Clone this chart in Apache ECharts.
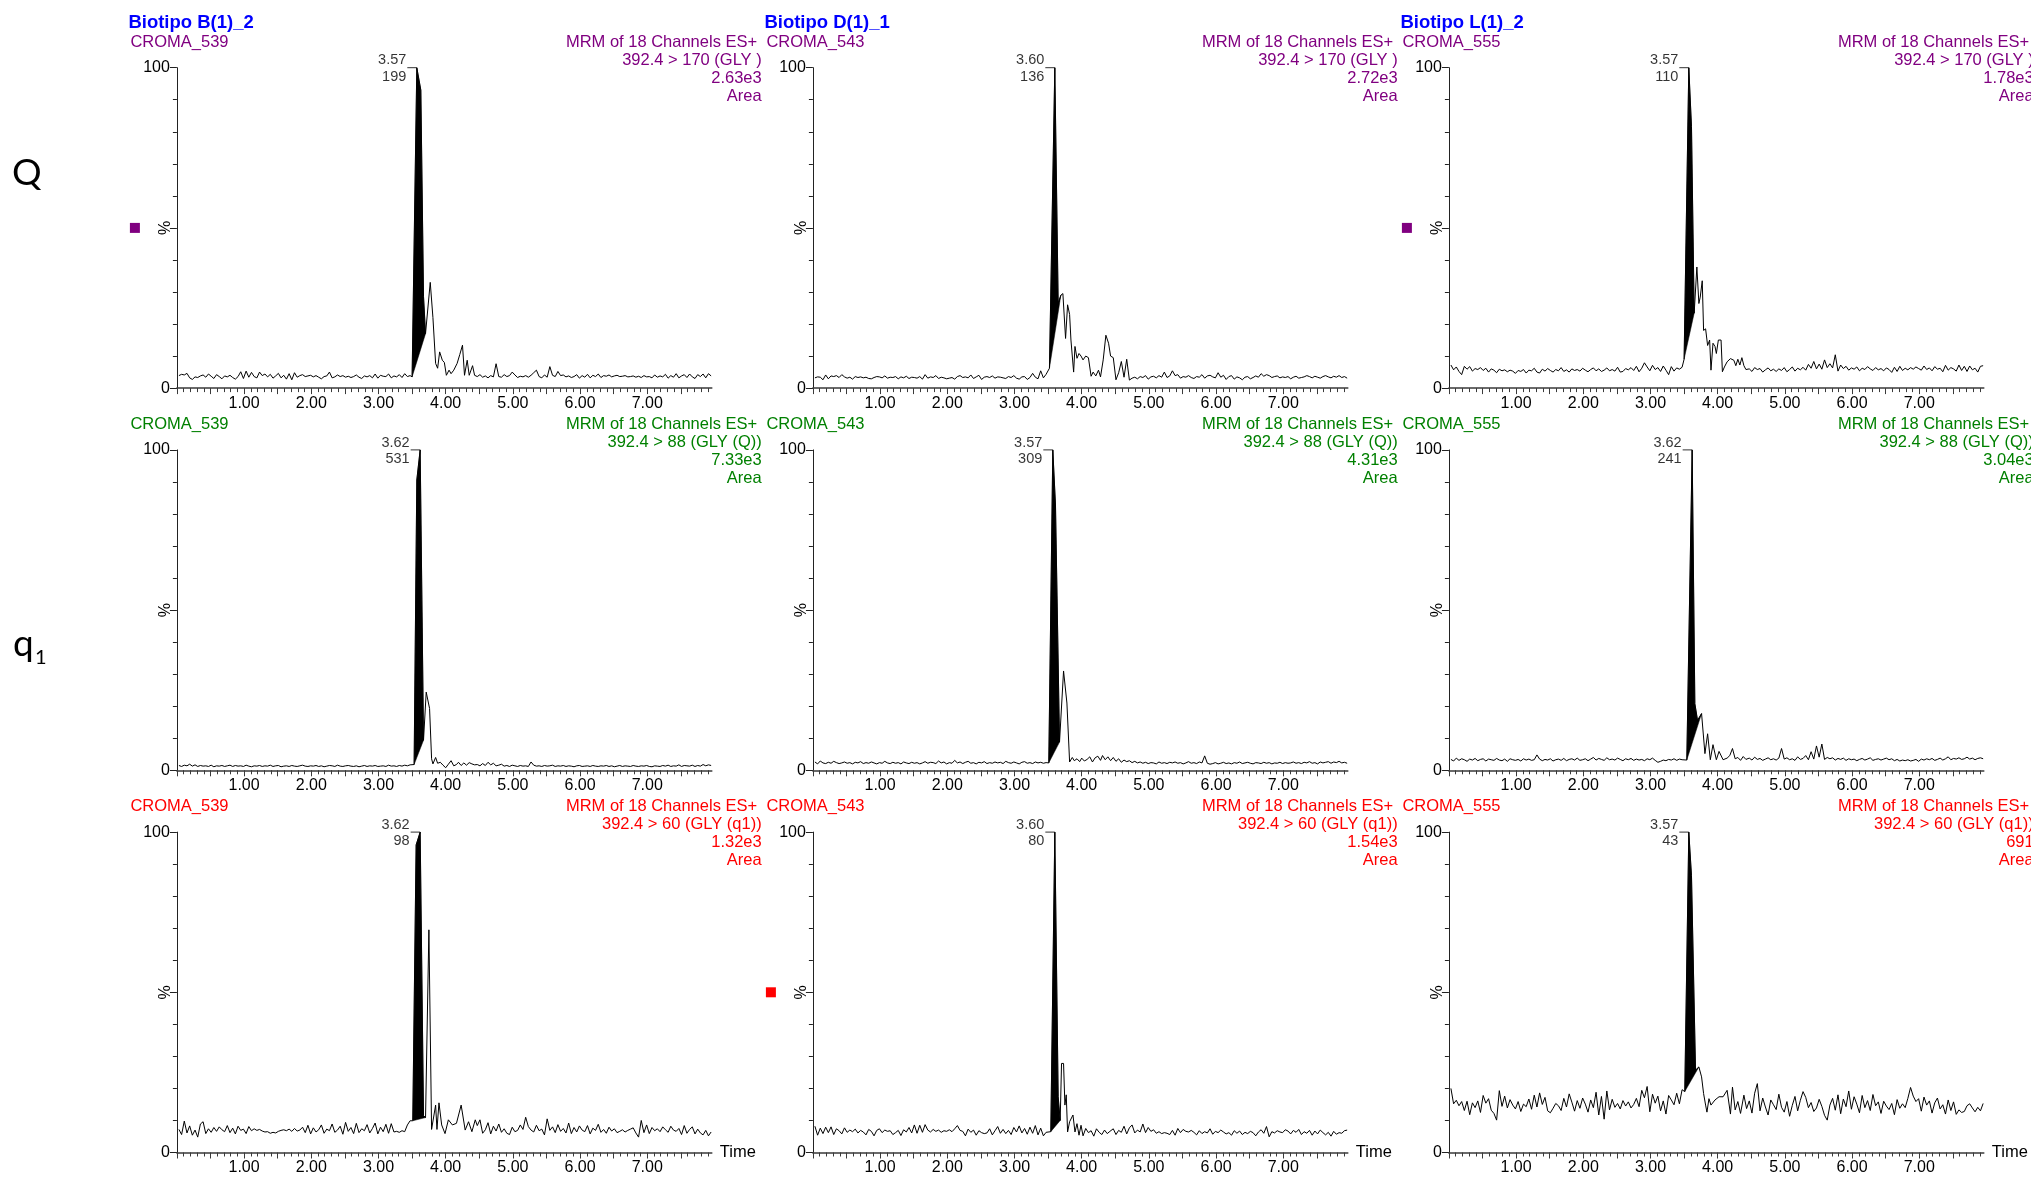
<!DOCTYPE html>
<html>
<head>
<meta charset="utf-8">
<script src="https://cdn.jsdelivr.net/npm/echarts@6/dist/echarts.min.js"></script>
<style>
  html, body { margin: 0; padding: 0; background: #fff; }
  #chart { width: 2031px; height: 1178px; }
</style>
</head>
<body>
<div id="chart"></div>
<script>
// ---- Acquisition: one scan every SCAN_DT min, starting at SCAN_T0 ----
const SCAN_T0 = 0.03, SCAN_DT = 0.04, SCAN_COUNT = 199;

// ---- Labels ----
const sampleNames = ['Biotipo B(1)_2', 'Biotipo D(1)_1', 'Biotipo L(1)_2'];
const runIds = ['CROMA_539', 'CROMA_543', 'CROMA_555'];
const transitions = ['392.4 > 170 (GLY )', '392.4 > 88 (GLY (Q))', '392.4 > 60 (GLY (q1))'];
const scanMode = 'MRM of 18 Channels ES+ ';
const timeLabels = [1, 2, 3, 4, 5, 6, 7];
const pctLabels = [0, 100];

// ---- Integrated peaks (rows: 170, 88, 60 transitions; columns: B, D, L) ----
const peakRT = [[3.57, 3.60, 3.57], [3.62, 3.57, 3.62], [3.62, 3.60, 3.57]];
const peakHeight = [[199, 136, 110], [531, 309, 241], [98, 80, 43]];
const peakArea = [['2.63e3', '2.72e3', '1.78e3'], ['7.33e3', '4.31e3', '3.04e3'], ['1.32e3', '1.54e3', '691']];
const integEnd = [[3.70, 3.69, 3.65], [3.67, 3.67, 3.76], [3.70, 3.68, 3.72]];

// ---- Traces (% of base peak). Pre: scans before the peak; Post: last scans of the run ----
// B(1)_2, 392.4 > 170
const b170Pre = [
  3.9, 4.3, 4.1, 4.6, 3.2, 2.7, 3.5, 3.3, 3.8, 4.1,
  3.4, 4.4, 3.7, 3.0, 4.2, 3.6, 2.9, 3.8, 3.5, 4.0,
  3.3, 2.8, 3.6, 5.1, 3.0, 5.3, 3.4, 4.9, 3.6, 3.2,
  5.0, 3.9, 4.4, 3.5, 4.3, 3.1, 3.8, 4.6, 3.2, 4.0,
  2.8, 4.5, 2.6, 4.8, 3.4, 3.9, 4.2, 3.6, 3.8, 4.0,
  3.5, 3.9, 3.4, 2.9, 3.6, 3.8, 5.0, 3.2, 3.5, 4.1,
  3.6, 3.9, 3.4, 3.7, 3.3, 3.6, 4.1, 3.4, 3.0, 3.8,
  3.5, 3.9, 3.2, 4.4, 3.1, 4.0, 3.7, 3.6, 4.4, 3.2,
  3.8, 3.5, 4.2, 3.3, 4.5, 3.6, 3.9];
const b170PeakT = [3.50, 3.57, 3.63, 3.67, 3.70, 3.77, 3.81, 3.85, 3.88, 3.91, 3.95, 3.98, 4.01, 4.05, 4.08, 4.12, 4.17, 4.21, 4.25, 4.28, 4.32, 4.35, 4.40, 4.43];
const b170PeakV = [3.5, 100, 93, 28.5, 17, 33, 22, 7.7, 6.2, 11.3, 8.7, 8.0, 4.0, 5.6, 4.5, 5.6, 7.7, 10.5, 13.4, 4.0, 8.7, 4.0, 7.0, 4.0];
const b170Post = [
  3.6, 4.2, 3.4, 3.8, 3.2, 3.9, 3.5, 7.6, 3.6, 3.4,
  4.2, 3.6, 3.9, 5.0, 4.1, 3.3, 3.7, 3.5, 3.9, 3.4,
  4.0, 4.8, 5.6, 3.6, 3.2, 4.1, 3.4, 6.7, 4.0, 3.6,
  5.2, 3.9, 4.1, 3.5, 3.8, 3.3, 3.6, 4.2, 3.1, 3.9,
  3.4, 4.3, 3.2, 4.0, 3.6, 4.4, 3.3, 3.9, 3.7, 4.1,
  3.5, 3.8, 4.0, 3.6, 3.7, 3.9, 3.5, 3.6, 3.8, 3.4,
  3.7, 3.3, 3.9, 3.5, 3.6, 3.2, 4.1, 3.4, 3.8, 3.5,
  4.3, 3.1, 3.9, 3.4, 4.5, 3.2, 3.8, 4.2, 3.3, 4.4,
  3.5, 3.0, 4.2, 3.6, 4.4, 3.2, 4.5, 3.8];

// D(1)_1, 392.4 > 170
const d170Pre = [
  3.2, 3.5, 3.4, 2.6, 4.1, 2.9, 3.8, 3.6, 3.9, 3.3,
  4.2, 3.5, 3.1, 3.4, 2.8, 3.6, 3.3, 3.5, 3.2, 3.4,
  3.0, 2.9, 3.3, 3.6, 3.5, 3.2, 3.8, 3.1, 3.4, 3.3,
  3.6, 2.9, 3.5, 3.2, 3.7, 3.0, 3.4, 3.3, 3.1, 3.6,
  2.8, 4.2, 3.1, 3.5, 3.3, 3.9, 3.0, 3.4, 3.2, 2.9,
  3.1, 3.3, 2.8, 3.6, 3.9, 3.3, 3.5, 3.2, 4.1, 3.0,
  3.5, 4.0, 2.7, 3.4, 3.6, 3.3, 3.8, 3.1, 3.5, 3.4,
  3.2, 3.0, 3.6, 3.3, 3.9, 3.1, 2.8, 3.5, 3.6, 2.7,
  3.3, 4.6, 3.4, 2.9, 5.4, 3.2, 4.3];
const d170PeakT = [3.52, 3.60, 3.65, 3.69, 3.72, 3.76, 3.79, 3.82, 3.84, 3.88, 3.90, 3.93, 3.96, 3.99, 4.02, 4.06, 4.10, 4.14, 4.17, 4.21, 4.25, 4.28, 4.32, 4.36, 4.40, 4.43];
const d170PeakV = [6.2, 100, 26.5, 29, 29.5, 15.5, 26, 23, 15, 5, 13, 9.3, 10.8, 10, 8.8, 10, 9.5, 3.7, 5, 3.8, 5.6, 3.5, 8.8, 16.5, 14, 10];
const d170Post = [
  9.5, 2.6, 4.8, 8.3, 3.4, 9.0, 2.5, 3.1, 3.4, 2.9,
  3.6, 3.3, 3.9, 2.8, 3.5, 3.7, 3.2, 3.9, 3.4, 5.0,
  3.3, 3.8, 5.4, 3.9, 4.2, 3.1, 3.6, 3.4, 3.9, 3.3,
  3.0, 3.6, 3.4, 4.2, 3.1, 3.8, 4.0, 3.5, 3.2, 4.8,
  3.4, 4.0, 2.7, 3.6, 3.9, 2.8, 3.5, 3.2, 2.6, 3.4,
  3.6, 2.9, 3.3, 3.8, 3.4, 4.5, 3.7, 4.2, 3.9, 3.3,
  3.6, 3.8, 3.2, 3.5, 3.3, 3.6, 2.9, 3.4, 3.7, 3.1,
  3.3, 3.5, 3.9, 3.6, 3.2, 3.7, 3.4, 3.1, 3.6, 3.9,
  3.5, 3.2, 3.7, 3.4, 3.9, 3.3, 3.6, 3.1];

// L(1)_2, 392.4 > 170
const l170Pre = [
  7.2, 5.7, 6.6, 5.2, 4.2, 6.8, 5.9, 6.7, 5.3, 6.1,
  5.8, 6.4, 5.5, 6.2, 5.0, 6.0, 5.6, 4.8, 5.9, 5.4,
  5.7, 5.1, 5.6, 5.3, 4.6, 5.5, 5.2, 5.8, 4.7, 5.6,
  5.4, 6.2, 5.0, 4.7, 5.9, 5.3, 6.1, 5.5, 5.0, 5.8,
  5.4, 6.4, 5.2, 5.7, 5.0, 6.0, 5.5, 5.8, 5.3, 6.2,
  5.6, 5.1, 5.8, 6.3, 5.4, 6.0, 5.2, 5.6, 6.3, 5.4,
  5.8, 5.3, 6.5, 5.0, 5.2, 6.1, 5.7, 6.4, 5.5, 6.8,
  5.1, 6.2, 7.9, 6.6, 5.4, 7.1, 5.8, 6.4, 5.2, 6.9,
  5.6, 4.2, 6.7, 5.3, 6.3, 5.9, 6.5];
const l170PeakT = [3.50, 3.57, 3.61, 3.65, 3.69, 3.72, 3.74, 3.77, 3.79, 3.82, 3.85, 3.88, 3.90, 3.93, 3.96, 3.98, 4.01, 4.05, 4.07, 4.10, 4.14, 4.19, 4.24, 4.27, 4.30, 4.33, 4.36, 4.39, 4.42];
const l170PeakV = [9, 100, 81.6, 23.4, 37.8, 26.4, 28.4, 33.5, 18, 18.5, 13.3, 15, 5.6, 14, 13, 10.8, 15, 15, 5.1, 6.6, 8.2, 9.2, 8.7, 7.0, 9.0, 7.2, 9.5, 7.0, 5.8];
const l170Post = [
  6.0, 5.2, 6.4, 5.8, 6.1, 5.0, 5.7, 6.3, 5.4, 5.9,
  5.2, 6.0, 5.5, 6.4, 5.1, 5.8, 6.6, 5.3, 6.2, 5.7,
  6.5, 5.6, 7.4, 6.2, 8.3, 6.0, 7.5, 5.9, 8.8, 6.4,
  7.6, 6.3, 10.4, 5.3, 7.2, 6.1, 6.8, 5.6, 6.3, 5.9,
  6.6, 5.4, 6.2, 5.8, 6.7, 6.0, 5.5, 6.4, 5.7, 6.1,
  5.4, 6.3, 5.8, 4.9, 6.5, 5.2, 6.8, 5.5, 6.2, 5.7,
  6.4, 5.9, 6.6, 6.1, 5.6, 6.9, 5.8, 6.3, 5.4, 6.7,
  5.9, 6.2, 5.1, 7.1, 5.6, 6.4, 6.0, 5.3, 7.2, 5.5,
  6.8, 5.2, 6.9, 5.7, 6.2, 5.0, 6.8, 7.0];

// B(1)_2, 392.4 > 88
const b88Pre = [
  1.5, 1.2, 1.6, 1.4, 1.9, 1.3, 1.7, 1.2, 1.5, 1.3,
  1.4, 1.2, 1.6, 1.1, 1.4, 1.3, 1.5, 1.2, 1.4, 1.6,
  1.2, 1.5, 1.3, 1.4, 1.2, 1.6, 1.3, 1.1, 1.4, 1.3,
  1.5, 1.2, 1.4, 1.3, 1.6, 1.2, 1.4, 1.5, 1.1, 1.3,
  1.4, 1.2, 1.5, 1.3, 1.2, 1.4, 1.6, 1.3, 1.2, 1.4,
  1.3, 1.5, 1.2, 1.4, 1.1, 1.3, 1.5, 1.4, 1.2, 1.6,
  1.3, 1.2, 1.4, 1.5, 1.3, 1.2, 1.4, 1.1, 1.3, 1.5,
  1.2, 1.4, 1.3, 1.5, 1.2, 1.3, 1.4, 1.2, 1.6, 1.3,
  1.4, 1.2, 1.5, 1.3, 1.6, 1.4, 1.7];
const b88PeakT = [3.53, 3.57, 3.62, 3.67, 3.71, 3.76, 3.79, 3.81, 3.85, 3.88, 3.92, 3.96, 4.00, 4.04, 4.08, 4.12, 4.16, 4.19, 4.23, 4.27, 4.31, 4.35, 4.39, 4.43];
const b88PeakV = [1.8, 90.6, 100, 9.4, 24.4, 19.3, 3.6, 2.0, 4.0, 2.2, 2.5, 1.6, 0.8, 1.9, 3.0, 1.4, 1.8, 2.5, 1.5, 2.3, 1.6, 2.4, 2.0, 1.7];
const b88Post = [
  1.8, 1.4, 2.1, 1.5, 2.5, 1.7, 2.2, 1.4, 1.6, 1.9,
  1.3, 1.5, 1.2, 1.6, 1.4, 1.2, 1.5, 1.3, 1.4, 1.2,
  2.6, 1.6, 1.3, 1.4, 1.2, 1.5, 1.3, 1.4, 1.6, 1.2,
  1.4, 1.3, 1.5, 1.2, 1.4, 1.3, 1.1, 1.4, 1.5, 1.2,
  1.3, 1.4, 1.2, 1.5, 1.3, 1.2, 1.4, 1.3, 1.5, 1.2,
  1.4, 1.1, 1.3, 1.5, 1.2, 1.4, 1.3, 1.2, 1.5, 1.3,
  1.2, 1.4, 1.3, 1.5, 1.2, 1.1, 1.4, 1.3, 1.2, 1.5,
  1.3, 1.6, 1.2, 1.4, 1.3, 1.7, 1.2, 1.5, 1.4, 1.3,
  1.6, 1.2, 1.5, 1.3, 1.8, 1.4, 1.7, 1.5];

// D(1)_1, 392.4 > 88
const d88Pre = [
  2.6, 2.0, 2.9, 2.3, 2.1, 2.5, 2.2, 2.8, 2.4, 2.1,
  2.3, 2.6, 2.2, 2.4, 2.0, 2.5, 2.3, 2.7, 2.1, 2.4,
  2.2, 2.6, 2.3, 2.0, 2.4, 2.2, 2.8, 2.3, 2.1, 2.5,
  2.2, 2.4, 2.0, 2.6, 2.3, 2.1, 2.5, 2.2, 2.4, 2.0,
  2.3, 2.7, 2.2, 2.5, 2.4, 2.1, 2.9, 2.3, 2.6, 2.0,
  2.4, 2.2, 3.1, 2.3, 2.6, 2.1, 2.5, 2.8, 2.2, 2.4,
  2.0, 2.5, 2.3, 2.7, 2.1, 2.4, 2.2, 2.6, 2.3, 2.5,
  2.1, 2.8, 2.4, 2.2, 2.6, 2.3, 2.0, 2.5, 2.7, 2.2,
  2.4, 2.1, 2.6, 2.3, 2.5, 2.2, 2.4];
const d88PeakT = [3.51, 3.57, 3.61, 3.67, 3.73, 3.78, 3.82, 3.86, 3.89, 3.93, 3.97, 4.00, 4.04, 4.08, 4.12, 4.16, 4.20, 4.24, 4.28, 4.31, 4.35, 4.39, 4.43];
const d88PeakV = [2.3, 100, 82.8, 8.8, 31, 21, 2.6, 4.0, 3.0, 3.6, 2.7, 3.8, 2.9, 3.4, 4.2, 2.6, 3.9, 4.4, 3.1, 4.6, 3.3, 4.2, 3.0];
const d88Post = [
  4.0, 2.8, 3.6, 2.5, 3.2, 2.7, 3.0, 2.4, 2.8, 2.3,
  2.6, 2.2, 2.5, 2.1, 2.4, 2.3, 2.0, 2.6, 2.2, 2.4,
  2.1, 2.5, 2.3, 2.6, 2.2, 2.4, 2.0, 2.3, 2.7, 2.2,
  2.4, 2.1, 2.6, 2.3, 4.5, 2.2, 1.9, 2.1, 2.4, 2.0,
  2.2, 2.5, 2.1, 2.3, 2.0, 2.4, 2.2, 2.6, 2.1, 2.3,
  2.5, 2.2, 2.0, 2.4, 2.3, 2.1, 2.5, 2.2, 2.4, 2.0,
  2.3, 2.2, 2.5, 2.1, 2.4, 2.2, 2.3, 2.6, 2.2, 2.4,
  2.1, 2.5, 2.3, 2.7, 2.2, 2.4, 2.0, 2.6, 2.3, 2.5,
  2.7, 2.2, 2.6, 2.4, 2.8, 2.3, 2.5, 2.2];

// L(1)_2, 392.4 > 88
const l88Pre = [
  3.4, 2.9, 3.8, 3.1, 3.6, 3.3, 2.8, 3.5, 3.2, 3.7,
  3.0, 3.4, 3.6, 2.9, 3.5, 3.3, 3.1, 3.7, 3.2, 3.0,
  3.5, 2.8, 3.6, 3.3, 3.1, 3.4, 2.9, 3.6, 3.2, 3.5,
  3.1, 3.3, 4.8, 3.5, 3.0, 3.4, 3.2, 3.6, 2.9, 3.3,
  3.5, 3.1, 3.7, 3.0, 3.4, 3.6, 3.2, 3.8, 3.1, 3.3,
  3.6, 3.0, 3.5, 4.0, 3.2, 3.7, 3.4, 3.1, 3.9, 3.3,
  3.5, 3.2, 3.8, 3.4, 3.0, 3.6, 3.3, 3.7, 3.1, 3.5,
  3.2, 3.4, 3.0, 3.6, 3.3, 3.8, 3.1, 2.5, 2.8, 3.2,
  3.0, 3.4, 3.2, 3.6, 3.1, 3.5, 3.3];
const l88PeakT = [3.54, 3.62, 3.66, 3.70, 3.76, 3.81, 3.85, 3.89, 3.93, 3.98, 4.02, 4.08, 4.14, 4.18, 4.22, 4.26, 4.30, 4.34, 4.38, 4.42];
const l88PeakV = [3.2, 100, 20.8, 15.6, 17.7, 5.2, 11.4, 3.3, 8.0, 3.3, 5.9, 3.3, 3.8, 4.6, 6.8, 3.6, 4.0, 3.1, 4.3, 3.4];
const l88Post = [
  3.8, 3.2, 4.1, 3.4, 3.7, 3.1, 3.5, 3.9, 3.3, 3.6,
  3.2, 3.8, 6.8, 3.5, 3.9, 3.3, 3.6, 3.1, 4.2, 3.4,
  3.7, 4.6, 3.3, 5.8, 3.5, 7.6, 4.1, 8.2, 3.4, 4.0,
  3.6, 3.9, 3.2, 3.7, 3.4, 3.8, 3.1, 3.6, 3.3, 3.5,
  3.0, 3.4, 3.7, 3.2, 3.5, 3.9, 3.1, 3.4, 3.6, 3.2,
  3.5, 3.8, 3.3, 3.6, 3.0, 3.4, 2.9, 3.2, 3.0, 3.3,
  2.9, 3.1, 3.4, 2.8, 3.5, 3.2, 3.6, 3.3, 3.7, 3.1,
  3.4, 3.8, 3.2, 3.6, 4.2, 3.3, 3.7, 3.5, 3.9, 3.4,
  3.6, 4.1, 3.5, 3.8, 3.3, 3.7, 3.9, 3.6];

// B(1)_2, 392.4 > 60
const b60Pre = [
  7.2, 5.6, 9.8, 6.1, 8.3, 5.4, 7.0, 4.8, 8.9, 9.6,
  5.9, 7.4, 6.3, 7.8, 6.6, 8.0, 7.1, 6.5, 8.4, 6.2,
  7.6, 5.8, 8.2, 6.9, 7.3, 5.9, 8.1, 6.8, 7.4, 6.9,
  7.2, 6.7, 6.4, 6.5, 6.0, 6.3, 6.1, 6.6, 6.9, 7.1,
  6.8, 7.3, 6.6, 7.5, 6.7, 7.0, 7.9, 6.2, 8.5, 5.8,
  7.7, 6.4, 7.1, 8.6, 6.0, 7.3, 6.8, 8.9, 6.3, 7.0,
  8.2, 5.7, 9.4, 6.6, 7.8, 5.9, 9.1, 6.2, 7.4, 6.8,
  8.7, 6.1, 7.5, 9.2, 5.8, 7.9, 6.5, 8.8, 6.0, 9.0,
  6.4, 6.6, 6.3, 6.8, 6.5, 8.6, 9.9];
const b60PeakT = [3.51, 3.56, 3.62, 3.67, 3.70, 3.75, 3.79, 3.85, 3.87, 3.90, 3.94, 3.99, 4.04, 4.10, 4.16, 4.23, 4.29, 4.34, 4.39, 4.44];
const b60PeakV = [9.9, 96, 100, 11.5, 10.9, 69.5, 7.2, 14.8, 7.2, 15.5, 8.6, 5.9, 10.2, 8.6, 9.1, 14.8, 7.0, 9.6, 6.5, 10.2];
const b60Post = [
  8.4, 10.2, 6.0, 7.1, 9.3, 5.8, 8.2, 6.7, 8.9, 6.3,
  7.4, 6.0, 5.6, 7.9, 6.5, 6.9, 8.6, 7.2, 11.0, 8.1,
  7.0, 6.4, 8.5, 6.8, 7.3, 5.5, 10.5, 6.9, 8.0, 6.2,
  8.7, 6.6, 7.5, 6.1, 9.2, 5.9, 7.8, 6.4, 8.3, 7.0,
  6.5, 8.4, 5.8, 7.6, 6.9, 8.8, 6.3, 7.2, 6.0, 7.9,
  6.7, 7.4, 6.2, 6.6, 7.1, 6.4, 6.9, 7.3, 7.7, 6.1,
  4.8, 10.0, 6.2, 8.6, 5.9, 7.8, 6.8, 7.4, 6.5, 8.0,
  7.1, 6.3, 8.2, 7.0, 6.6, 7.5, 5.6, 8.4, 6.0, 7.2,
  8.0, 5.8, 7.3, 6.1, 5.5, 6.9, 5.2, 6.4];

// D(1)_1, 392.4 > 60
const d60Pre = [
  8.2, 5.4, 7.6, 5.9, 7.9, 6.2, 8.0, 5.6, 7.4, 6.8,
  5.8, 7.7, 6.3, 7.0, 6.5, 7.3, 6.1, 6.9, 6.4, 5.5,
  7.2, 6.6, 5.2, 6.9, 7.4, 6.2, 7.0, 6.6, 6.8, 5.6,
  6.2, 6.9, 5.3, 7.1, 6.4, 7.8, 6.1, 8.6, 6.0, 8.5,
  6.3, 8.7, 7.0, 6.4, 7.2, 6.6, 7.0, 6.3, 6.8, 6.6,
  7.1, 6.5, 7.4, 8.4, 6.9, 6.6, 5.2, 7.3, 6.3, 7.0,
  5.4, 6.8, 6.2, 5.9, 6.1, 7.4, 5.5, 6.8, 8.1, 6.0,
  7.2, 5.9, 6.9, 5.6, 7.8, 6.4, 8.3, 6.1, 7.5, 5.7,
  7.9, 6.0, 8.4, 5.5, 7.6, 5.2, 6.3];
const d60PeakT = [3.54, 3.60, 3.65, 3.68, 3.70, 3.73, 3.75, 3.77, 3.79, 3.82, 3.84, 3.87, 3.90, 3.93, 3.96, 3.99, 4.02, 4.06, 4.10, 4.14, 4.18, 4.22, 4.26, 4.30, 4.34, 4.38, 4.42];
const d60PeakV = [6.5, 100, 17.4, 10, 27.8, 27.8, 14.8, 18, 6.4, 9.6, 9.6, 11.7, 6.4, 9.0, 5.4, 8.5, 5.2, 7.5, 6.2, 6.8, 5.1, 7.4, 6.3, 5.6, 7.0, 5.9, 6.6];
const d60Post = [
  7.4, 5.6, 6.9, 6.3, 8.2, 5.8, 7.7, 8.6, 6.1, 7.0,
  6.4, 8.9, 6.2, 7.8, 6.6, 7.1, 6.0, 6.5, 5.9, 6.2,
  6.0, 5.6, 6.9, 5.4, 7.5, 6.2, 7.2, 6.6, 6.4, 6.9,
  6.3, 5.5, 6.8, 5.9, 6.5, 6.1, 7.4, 5.7, 6.6, 6.2,
  7.0, 6.4, 5.8, 6.2, 5.4, 6.8, 6.0, 6.7, 5.6, 6.3,
  5.9, 6.6, 6.2, 5.2, 6.4, 7.1, 6.0, 8.1, 4.9, 6.5,
  6.1, 6.8, 6.4, 6.2, 7.1, 6.7, 5.8, 6.9, 6.3, 7.2,
  5.6, 6.5, 6.0, 6.9, 5.4, 6.7, 5.8, 7.0, 6.2, 5.5,
  6.3, 5.1, 6.6, 5.7, 6.2, 6.0, 6.8, 7.0];

// L(1)_2, 392.4 > 60
const l60Pre = [
  20.0, 15.2, 16.3, 14.6, 15.9, 13.1, 16.0, 11.8, 15.5, 14.0,
  16.1, 12.5, 17.8, 15.4, 16.8, 13.2, 12.2, 10.1, 19.3, 14.4,
  17.6, 13.9, 16.5, 14.8, 13.6, 15.9, 12.8, 15.1, 14.3, 16.7,
  13.5, 17.9, 14.2, 18.6, 15.0, 17.2, 13.0, 12.4, 13.8, 15.3,
  14.6, 13.1, 16.9, 14.2, 18.3, 15.7, 12.9, 16.2, 13.8, 17.0,
  15.1, 12.6, 16.4, 14.0, 18.8, 11.7, 17.5, 10.4, 19.2, 13.3,
  16.6, 14.1, 15.3, 13.6, 16.2, 14.5, 15.8, 13.9, 15.0, 16.9,
  14.3, 19.4, 17.1, 20.6, 12.7, 18.2, 15.4, 17.6, 13.0, 16.1,
  12.0, 17.8, 16.4, 14.9, 18.5, 15.2, 19.6];
const l60PeakT = [3.51, 3.57, 3.61, 3.67, 3.72, 3.76, 3.79, 3.82, 3.84, 3.87, 3.90, 3.96, 4.02, 4.08, 4.14, 4.19, 4.22, 4.26, 4.30, 4.34, 4.39, 4.43];
const l60PeakV = [19, 100, 86.4, 25.7, 26.7, 23.6, 18.4, 14.8, 12.6, 16.8, 14.8, 16.4, 17.4, 17.4, 19.4, 12, 20.4, 13.3, 15.9, 12.2, 17.9, 13.7];
const l60Post = [
  16.1, 12.3, 18.5, 21.5, 13.0, 17.0, 14.2, 11.7, 16.4, 14.9,
  13.4, 18.2, 14.1, 12.6, 15.9, 11.3, 14.7, 17.5, 13.0, 16.3,
  19.0, 17.2, 14.0, 15.6, 12.8, 13.9, 16.6, 14.4, 11.6, 10.1,
  14.8, 16.9, 13.2, 18.0, 12.1, 16.7, 14.3, 19.2, 13.5, 17.4,
  15.1, 12.4, 17.8, 14.0, 16.2, 13.1, 18.1, 14.6, 15.8, 12.2,
  16.0, 14.5, 13.4, 15.3, 11.8, 16.5, 13.8, 15.2, 14.0, 16.9,
  20.3, 17.6, 15.9, 16.8, 12.9, 17.3, 14.8, 16.1, 12.3, 15.5,
  17.0, 13.6, 14.9, 12.0, 16.4, 13.1, 15.8, 11.9, 13.3, 12.5,
  12.8, 14.6, 15.2, 13.9, 12.7, 14.1, 13.0, 15.3];

// ---- Panel table (row = transition, column = sample) ----
const channelData = [
  [[b170Pre, b170PeakT, b170PeakV, b170Post], [d170Pre, d170PeakT, d170PeakV, d170Post], [l170Pre, l170PeakT, l170PeakV, l170Post]],
  [[b88Pre, b88PeakT, b88PeakV, b88Post], [d88Pre, d88PeakT, d88PeakV, d88Post], [l88Pre, l88PeakT, l88PeakV, l88Post]],
  [[b60Pre, b60PeakT, b60PeakV, b60Post], [d60Pre, d60PeakT, d60PeakV, d60Post], [l60Pre, l60PeakT, l60PeakV, l60Post]]
];

function buildTrace(pre, peakT, peakV, post) {
  const pts = pre.map((v, i) => [SCAN_T0 + i * SCAN_DT, v]);
  peakT.forEach((t, i) => pts.push([t, peakV[i]]));
  const first = SCAN_COUNT - post.length;
  post.forEach((v, j) => pts.push([SCAN_T0 + (first + j) * SCAN_DT, v]));
  return pts;
}

// ---- Layout & style ----
const COL_X = [176.9, 812.9, 1448.9];
const ROW_Y = [67.7, 449.9, 832.1];
const ROW_STEP = 382.2;
const PLOT_W = 534.9, PLOT_H = 320.4;
const X_MAX = 7.96;
const FONT = '"Liberation Sans", Arial, sans-serif';
const ROW_COLORS = ['#800080', '#008000', '#ff0000'];
const TITLE_COLOR = '#0000ff';
const AXIS_COLOR = '#3a3a3a';

const majorTicks = [];
for (let i = 0; i <= 15; i++) majorTicks.push(i * 0.5);
const minorTicks = [];
for (let i = 1; i < 80; i++) if (i % 5) minorTicks.push(i / 10);

const grids = [], xAxes = [], yAxes = [], series = [], graphics = [];

function txt(text, x, y, fill, font, align, rotation) {
  return {
    type: 'text', x, y, rotation: rotation || 0, silent: true,
    style: { text, fill, font, align, verticalAlign: 'middle', textAlign: align, textVerticalAlign: 'middle' }
  };
}

for (let r = 0; r < 3; r++) {
  for (let c = 0; c < 3; c++) {
    const k = r * 3 + c;
    const [pre, pkT, pkV, post] = channelData[r][c];
    const trace = buildTrace(pre, pkT, pkV, post);
    const rt = peakRT[r][c];
    const tEnd = integEnd[r][c];

    grids.push({ left: COL_X[c], top: ROW_Y[r], width: PLOT_W, height: PLOT_H, containLabel: false, outerBoundsMode: 'none' });

    xAxes.push({
      type: 'value', gridIndex: k, min: 0, max: X_MAX, position: 'bottom',
      axisLine: { show: true, onZero: false, lineStyle: { color: AXIS_COLOR, width: 1.5 } },
      axisTick: { show: true, customValues: majorTicks, length: 6, lineStyle: { color: AXIS_COLOR, width: 1 } },
      axisLabel: { show: true, customValues: timeLabels, formatter: v => v.toFixed(2), color: '#000', fontSize: 16, fontFamily: FONT, margin: 7 },
      splitLine: { show: false },
      name: r === 2 ? 'Time' : '', nameLocation: 'end', nameGap: 8,
      nameTextStyle: { color: '#000', fontSize: 16.5, fontFamily: FONT, verticalAlign: 'middle', align: 'left' }
    });
    xAxes.push({
      type: 'value', gridIndex: k, min: 0, max: X_MAX, position: 'bottom',
      axisLine: { show: false },
      axisTick: { show: true, customValues: minorTicks, length: 4, lineStyle: { color: AXIS_COLOR, width: 1 } },
      axisLabel: { show: false }, splitLine: { show: false }
    });
    yAxes.push({
      type: 'value', gridIndex: k, min: 0, max: 100, position: 'left',
      axisLine: { show: true, onZero: false, lineStyle: { color: '#222', width: 1 } },
      axisTick: { show: true, customValues: [0, 50, 100], length: 7, lineStyle: { color: '#222', width: 1 } },
      axisLabel: { show: true, customValues: pctLabels, color: '#000', fontSize: 16, fontFamily: FONT, margin: 7 },
      splitLine: { show: false }
    });
    yAxes.push({
      type: 'value', gridIndex: k, min: 0, max: 100, position: 'left',
      axisLine: { show: false },
      axisTick: { show: true, customValues: [10, 20, 30, 40, 60, 70, 80, 90], length: 4, lineStyle: { color: '#222', width: 1 } },
      axisLabel: { show: false }, splitLine: { show: false }
    });

    // chromatogram trace
    series.push({
      type: 'line', xAxisIndex: 2 * k, yAxisIndex: 2 * k, data: trace,
      showSymbol: false, symbol: 'none', silent: true, animation: false, z: 3,
      lineStyle: { color: '#000', width: 1 }, itemStyle: { color: '#000' }
    });
    // integrated area (trace vs. straight drop baseline) and apex leader
    series.push({
      type: 'custom', coordinateSystem: 'cartesian2d', xAxisIndex: 2 * k, yAxisIndex: 2 * k,
      data: [[rt, 100]], silent: true, animation: false, z: 2,
      renderItem: (params, api) => {
        const pts = [];
        for (let i = 0; i < pkT.length && pkT[i] <= tEnd + 1e-9; i++) pts.push(api.coord([pkT[i], pkV[i]]));
        const apex = api.coord([rt, 100]);
        return {
          type: 'group', children: [
            { type: 'polygon', shape: { points: pts }, style: { fill: '#000', stroke: '#000', lineWidth: 0.5 } },
            { type: 'line', shape: { x1: apex[0] - 9.5, y1: apex[1], x2: apex[0], y2: apex[1] }, style: { stroke: '#333', lineWidth: 1 } }
          ]
        };
      }
    });
    // apex retention time / height
    series.push({
      type: 'scatter', xAxisIndex: 2 * k, yAxisIndex: 2 * k, data: [[rt, 100]],
      symbol: 'circle', symbolSize: 1, itemStyle: { color: 'rgba(0,0,0,0)' }, silent: true, animation: false, z: 4,
      label: {
        show: true, position: 'left', distance: 10, offset: [0, 1],
        formatter: rt.toFixed(2) + '\n' + peakHeight[r][c],
        color: '#000', fontSize: 14.5, lineHeight: 16.5, fontFamily: FONT, align: 'right'
      }
    });

    // "%" caption of the intensity axis
    graphics.push(txt('%', COL_X[c] - 11.5, ROW_Y[r] + PLOT_H / 2, '#000', '16px ' + FONT, 'center', Math.PI / 2));

    // header texts of the panel
    const rowTop = 42.5 + r * ROW_STEP;
    const color = ROW_COLORS[r];
    graphics.push(txt(runIds[c], COL_X[c] - 46.5, rowTop, color, '16.5px ' + FONT, 'left'));
    [scanMode, transitions[r], peakArea[r][c], 'Area'].forEach((s, j) => {
      graphics.push(txt(s, COL_X[c] + 584.8, rowTop + j * 18, color, '16.5px ' + FONT, 'right'));
    });
  }
}

// sample titles
sampleNames.forEach((s, c) => graphics.push(txt(s, COL_X[c] - 48.5, 22.5, TITLE_COLOR, 'bold 18.5px ' + FONT, 'left')));

// row captions
graphics.push(txt('Q', 12, 173.5, '#000', '37px Lato, "Open Sans", sans-serif', 'left'));
graphics.push(txt('q', 13, 644, '#000', '37px Lato, "Open Sans", sans-serif', 'left'));
graphics.push(txt('1', 35, 658, '#000', '20px Lato, "Open Sans", sans-serif', 'left'));

// channel link markers
[[0, 0, ROW_COLORS[0]], [0, 2, ROW_COLORS[0]], [2, 1, ROW_COLORS[2]]].forEach(([r, c, fill]) => {
  graphics.push({
    type: 'rect', silent: true,
    shape: { x: COL_X[c] - 47, y: ROW_Y[r] + PLOT_H / 2 - 5, width: 10, height: 10 },
    style: { fill }
  });
});

const chart = echarts.init(document.getElementById('chart'), null, { renderer: 'canvas' });
chart.setOption({
  backgroundColor: '#fff',
  animation: false,
  grid: grids,
  xAxis: xAxes,
  yAxis: yAxes,
  series,
  graphic: { elements: graphics }
});
</script>
</body>
</html>
